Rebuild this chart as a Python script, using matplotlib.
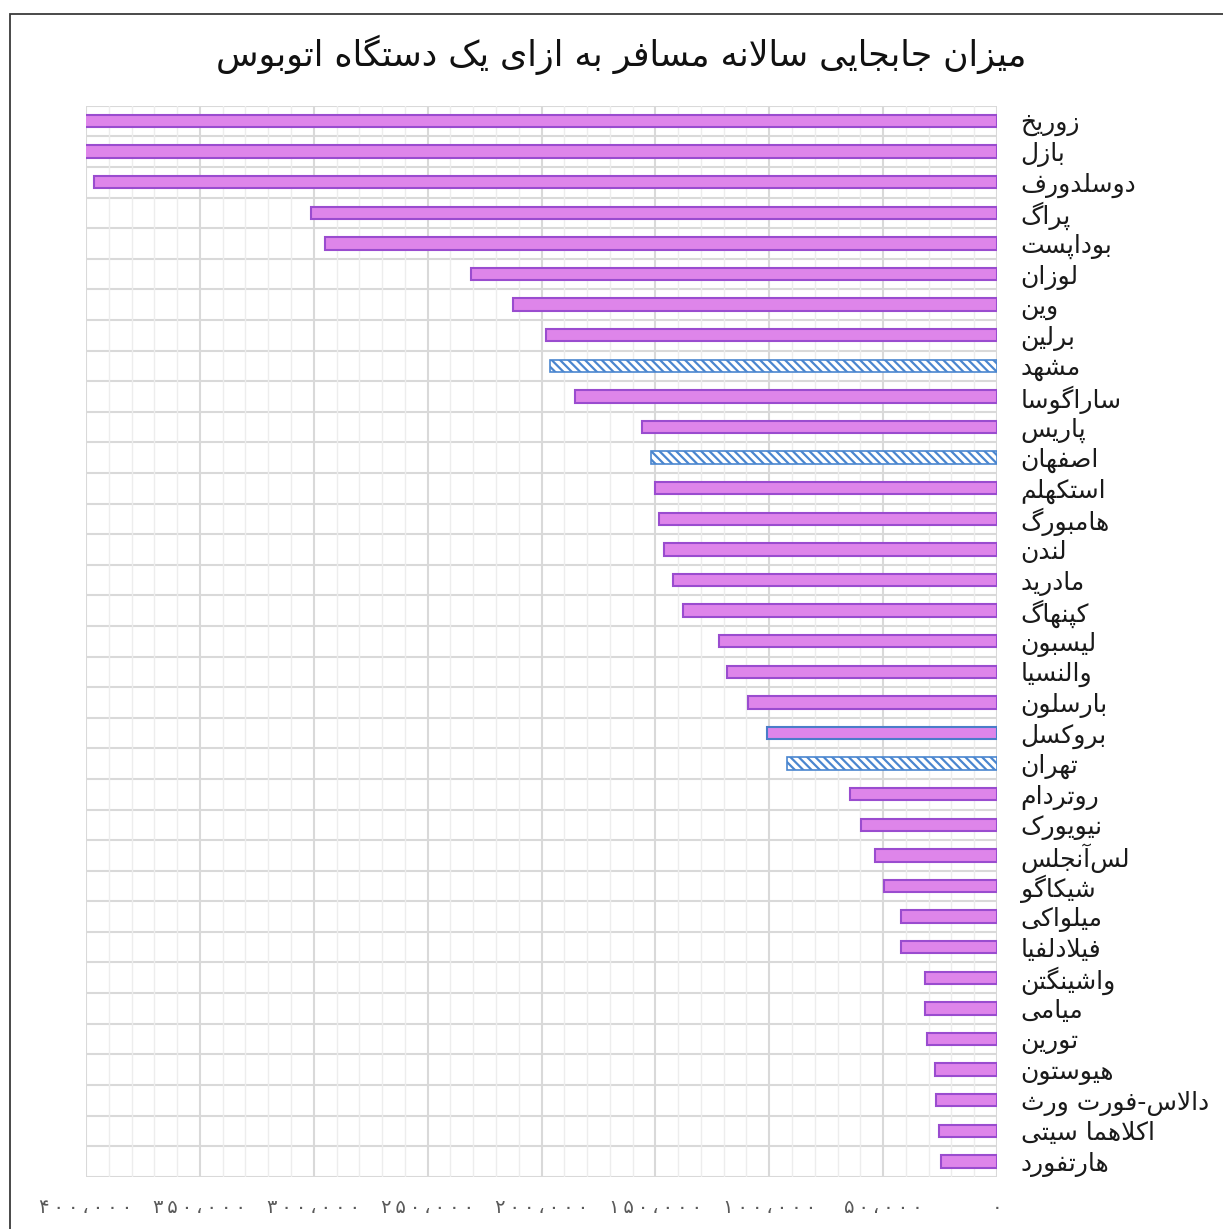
import numpy as np
import matplotlib
matplotlib.use('Agg')
import matplotlib.pyplot as plt
from matplotlib.patches import Rectangle

## data
cities = ['زوریخ', 'بازل', 'دوسلدورف', 'پراگ', 'بوداپست', 'لوزان', 'وین', 'برلین',
          'مشهد', 'ساراگوسا', 'پاریس', 'اصفهان', 'استکهلم', 'هامبورگ', 'لندن',
          'مادرید', 'کپنهاگ', 'لیسبون', 'والنسیا', 'بارسلون', 'بروکسل', 'تهران',
          'روتردام', 'نیویورک', 'لس\u200cآنجلس', 'شیکاگو', 'میلواکی', 'فیلادلفیا',
          'واشینگتن', 'میامی', 'تورین', 'هیوستون', 'دالاس-فورت ورث', 'اکلاهما سیتی',
          'هارتفورد']
values = [420000, 410000, 396500, 301200, 295100, 231000, 212500, 198000,
          196300, 185300, 155900, 151900, 150200, 148400, 146200,
          142300, 137900, 122100, 118600, 109300, 101000, 92200,
          64500, 59700, 53600, 49600, 42200, 42000,
          31600, 31500, 30700, 27200, 27000, 25500,
          24600]
hatched_cities = ['مشهد', 'اصفهان', 'تهران']
blue_edge_cities = ['بروکسل']
title = 'میزان جابجایی سالانه مسافر به ازای یک دستگاه اتوبوس'
xticks = [0, 50000, 100000, 150000, 200000, 250000, 300000, 350000, 400000]

## simple arabic/persian shaping (isolated, final, initial, medial)
FORMS = {
    'ا': ('\uFE8D', '\uFE8E', None, None),
    'آ': ('\uFE81', '\uFE82', None, None),
    'ب': ('\uFE8F', '\uFE90', '\uFE91', '\uFE92'),
    'پ': ('\uFB56', '\uFB57', '\uFB58', '\uFB59'),
    'ت': ('\uFE95', '\uFE96', '\uFE97', '\uFE98'),
    'ث': ('\uFE99', '\uFE9A', '\uFE9B', '\uFE9C'),
    'ج': ('\uFE9D', '\uFE9E', '\uFE9F', '\uFEA0'),
    'خ': ('\uFEA5', '\uFEA6', '\uFEA7', '\uFEA8'),
    'د': ('\uFEA9', '\uFEAA', None, None),
    'ر': ('\uFEAD', '\uFEAE', None, None),
    'ز': ('\uFEAF', '\uFEB0', None, None),
    'س': ('\uFEB1', '\uFEB2', '\uFEB3', '\uFEB4'),
    'ش': ('\uFEB5', '\uFEB6', '\uFEB7', '\uFEB8'),
    'ص': ('\uFEB9', '\uFEBA', '\uFEBB', '\uFEBC'),
    'ف': ('\uFED1', '\uFED2', '\uFED3', '\uFED4'),
    'ک': ('\uFB8E', '\uFB8F', '\uFB90', '\uFB91'),
    'گ': ('\uFB92', '\uFB93', '\uFB94', '\uFB95'),
    'ل': ('\uFEDD', '\uFEDE', '\uFEDF', '\uFEE0'),
    'م': ('\uFEE1', '\uFEE2', '\uFEE3', '\uFEE4'),
    'ن': ('\uFEE5', '\uFEE6', '\uFEE7', '\uFEE8'),
    'و': ('\uFEED', '\uFEEE', None, None),
    'ه': ('\uFEE9', '\uFEEA', '\uFEEB', '\uFEEC'),
    'ی': ('\uFBFC', '\uFBFD', '\uFBFE', '\uFBFF'),
}
LAMALEF = {'ا': ('\uFEFB', '\uFEFC'), 'آ': ('\uFEF5', '\uFEF6')}


def joins_fwd(c):
    return c in FORMS and FORMS[c][2] is not None


def shape(s):
    res = []
    n = len(s)
    i = 0
    while i < n:
        c = s[i]
        if c not in FORMS:
            if c != '\u200c':
                res.append(c)
            i += 1
            continue
        con_prev = i > 0 and joins_fwd(s[i-1])
        if c == 'ل' and i+1 < n and s[i+1] in LAMALEF:
            res.append(LAMALEF[s[i+1]][1 if con_prev else 0])
            i += 2
            continue
        con_next = joins_fwd(c) and i+1 < n and s[i+1] in FORMS
        iso, fin, ini, med = FORMS[c]
        if con_prev and con_next:
            res.append(med)
        elif con_prev:
            res.append(fin)
        elif con_next:
            res.append(ini)
        else:
            res.append(iso)
        i += 1
    return ''.join(res[::-1])


def fa_num(v):
    s = '{:,}'.format(v).replace(',', '،')
    s = s.translate(str.maketrans('0123456789', '۰۱۲۳۴۵۶۷۸۹'))
    return '\u2009'.join(s)


plt.rcParams['font.family'] = ['DejaVu Sans']
plt.rcParams['hatch.linewidth'] = 1.6

W, H = 1223, 1229
fig = plt.figure(figsize=(W/100, H/100), dpi=100)
ax = fig.add_axes([86/W, 1-1176.7/H, (997-86)/W, (1176.7-105.7)/H])

## outer chart border
fig.patches.append(Rectangle((10/W, -0.1), 1.5, 1-14/H+0.1, transform=fig.transFigure,
                             fill=False, ec='#3a3a3a', lw=1.3, zorder=0))

y = np.arange(len(cities))
for i in range(len(cities)):
    c = cities[i]
    if c in hatched_cities:
        ax.barh(y[i], values[i], height=0.4, color='white', edgecolor='#4a86cf',
                hatch='\\\\\\\\', lw=1.2, zorder=3)
    elif c in blue_edge_cities:
        ax.barh(y[i], values[i], height=0.4, color='#de85ea', edgecolor='#4a7cc9',
                lw=1.5, zorder=3)
    else:
        ax.barh(y[i], values[i], height=0.4, color='#de85ea', edgecolor='#9a4ccf',
                lw=1.5, zorder=3)

ax.set_xlim(400000, 0)
ax.set_ylim(len(cities)-0.5, -0.5)

## grid
ax.set_xticks(xticks)
ax.set_xticklabels([fa_num(v) for v in xticks], fontsize=14, color='#595959')
ax.set_xticks(np.arange(0, 400001, 10000), minor=True)
ax.grid(axis='x', which='major', color='#d9d9d9', lw=1.5, zorder=0)
ax.grid(axis='x', which='minor', color='#ededed', lw=1.0, zorder=0)
for b in np.arange(-0.5, len(cities), 1.0):
    ax.axhline(b, color='#d9d9d9', lw=1.5, zorder=1)
ax.tick_params(axis='x', which='both', length=0, pad=15)

ax.yaxis.tick_right()
ax.set_yticks(y)
ax.set_yticklabels([shape(c) for c in cities], fontsize=18, color='#1a1a1a')
ax.tick_params(axis='y', length=0, pad=17)
for s in ax.spines.values():
    s.set_visible(False)

fig.text(0.508, 1-55/H, shape(title), ha='center', va='center', fontsize=25, color='#111111')

fig.savefig('out.png', dpi=100)
